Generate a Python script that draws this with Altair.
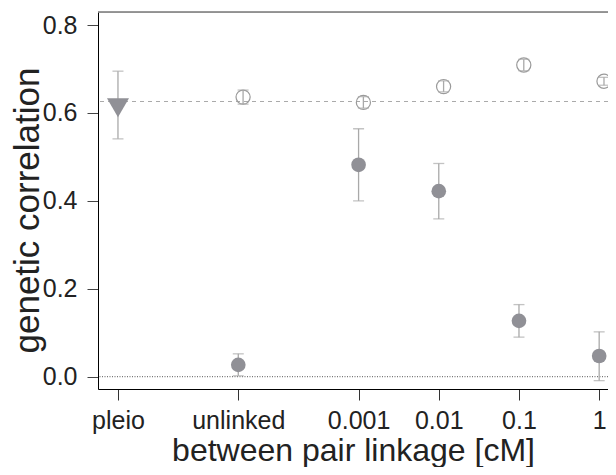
import altair as alt
import pandas as pd

# ---- data ----
categories = ["pleio", "unlinked", "0.001", "0.01", "0.1", "1"]
positions = [0, 1.5, 3, 4, 5, 6]          # axis slots (wider gap after the first two)

pleio_cat = ["pleio"]
pleio_value = [0.612]
pleio_lo = [0.541]
pleio_hi = [0.695]

filled_cats = ["unlinked", "0.001", "0.01", "0.1", "1"]
filled_value = [0.027, 0.482, 0.422, 0.127, 0.047]
filled_lo = [0.002, 0.400, 0.359, 0.090, -0.009]
filled_hi = [0.052, 0.564, 0.485, 0.164, 0.102]

open_cats = ["unlinked", "0.001", "0.01", "0.1", "1"]
open_value = [0.636, 0.624, 0.660, 0.709, 0.672]
open_lo = [0.620, 0.611, 0.648, 0.696, 0.663]
open_hi = [0.652, 0.637, 0.673, 0.722, 0.681]

reference_level = [0.626]
zero_level = [0.0]
y_ticks = [0.0, 0.2, 0.4, 0.6, 0.8]

# ---- style ----
OPEN_SHIFT = 0.06
FONT = "Liberation Sans"
W, H = 510, 377
GREY_FILL = "#909096"
GREY_BAR = "#a9a9a9"
GREY_OPEN = "#9a9a9a"

pos = dict(zip(categories, positions))

def frame(cats, v, lo, hi, shift=0.0):
    return pd.DataFrame({
        "x": [pos[c] + shift for c in cats],
        "v": v, "lo": lo, "hi": hi,
    })

df_p = frame(pleio_cat, pleio_value, pleio_lo, pleio_hi)
df_f = frame(filled_cats, filled_value, filled_lo, filled_hi)
df_o = frame(open_cats, open_value, open_lo, open_hi, OPEN_SHIFT)

label_expr = ""
for p, c in zip(positions, categories):
    label_expr += f"datum.value == {p} ? '{c}' : "
label_expr += "''"

xscale = alt.Scale(domain=[-0.249, 6.110], nice=False, zero=False)
yscale = alt.Scale(domain=[-0.028, 0.8296], nice=False, zero=False)

xaxis = alt.Axis(values=positions, labelExpr=label_expr, title="between pair linkage [cM]",
                 grid=False, domainColor="black", tickColor="#333333", tickSize=11,
                 labelFont=FONT, labelFontSize=25, labelColor="#222222",
                 labelBaseline="alphabetic", labelPadding=28,
                 titleFont=FONT, titleFontSize=32, titleFontWeight="normal",
                 titleColor="#222222", titleBaseline="alphabetic", titleY=71,
                 labelFlush=False, labelOverlap=False)
yaxis = alt.Axis(values=y_ticks, format=".1f", title="genetic correlation",
                 grid=False, domainColor="black", tickColor="#444444", tickSize=11,
                 labelFont=FONT, labelFontSize=25, labelColor="#222222", labelPadding=10,
                 titleFont=FONT, titleFontSize=35, titleFontWeight="normal",
                 titleColor="#222222", titleAngle=-90, titleAlign="center",
                 titleBaseline="alphabetic", titleX=-60, titleY=198,
                 labelFlush=False, labelOverlap=False)

X = alt.X("x:Q", scale=xscale, axis=xaxis)
Y = alt.Y("v:Q", scale=yscale, axis=yaxis)

ref = alt.Chart(pd.DataFrame({"v": reference_level})).mark_rule(
    color="#aaaaaa", strokeDash=[4, 4], strokeWidth=1.2).encode(y=alt.Y("v:Q", scale=yscale, axis=yaxis))
zero = alt.Chart(pd.DataFrame({"v": zero_level})).mark_rule(
    color="#555555", strokeDash=[1, 1.5], strokeWidth=1).encode(y=alt.Y("v:Q", scale=yscale, axis=yaxis))

top_border = alt.Chart(pd.DataFrame({"v": [0]})).mark_rule(color="#777777", strokeWidth=1.3).encode(
    x=alt.value(0), x2=alt.value(W), y=alt.value(0))

def errorbars(df):
    base = alt.Chart(df)
    stem = base.mark_rule(color=GREY_BAR, strokeWidth=1.3).encode(
        x=X, y=alt.Y("lo:Q", scale=yscale, axis=yaxis), y2="hi:Q")
    cap_lo = base.mark_tick(color=GREY_BAR, size=11, thickness=1.3, orient="horizontal").encode(
        x=X, y=alt.Y("lo:Q", scale=yscale, axis=yaxis))
    cap_hi = base.mark_tick(color=GREY_BAR, size=11, thickness=1.3, orient="horizontal").encode(
        x=X, y=alt.Y("hi:Q", scale=yscale, axis=yaxis))
    return [stem, cap_lo, cap_hi]

pts_f = alt.Chart(df_f).mark_point(shape="circle", filled=True, size=215,
                                   color=GREY_FILL, opacity=1).encode(x=X, y=Y)
pts_o = alt.Chart(df_o).mark_point(shape="circle", filled=False, size=200,
                                   color=GREY_OPEN, strokeWidth=1.2, opacity=1).encode(x=X, y=Y)
pts_p = alt.Chart(df_p).mark_point(shape="triangle-down", filled=True, size=484,
                                   color=GREY_FILL, opacity=1).encode(x=X, y=Y)

layers = [ref, zero, top_border] + errorbars(df_p) + [pts_p] + errorbars(df_f) + [pts_f] + [pts_o] + errorbars(df_o)

chart = alt.layer(*layers).properties(
    width=W, height=H,
    autosize=alt.AutoSizeParams(type="none"),
    padding={"left": 90, "top": 4, "right": 0, "bottom": 78},
).configure_view(stroke=None).configure(background="white")

chart.save("out.html", embed_options={"renderer": "svg", "actions": False})
